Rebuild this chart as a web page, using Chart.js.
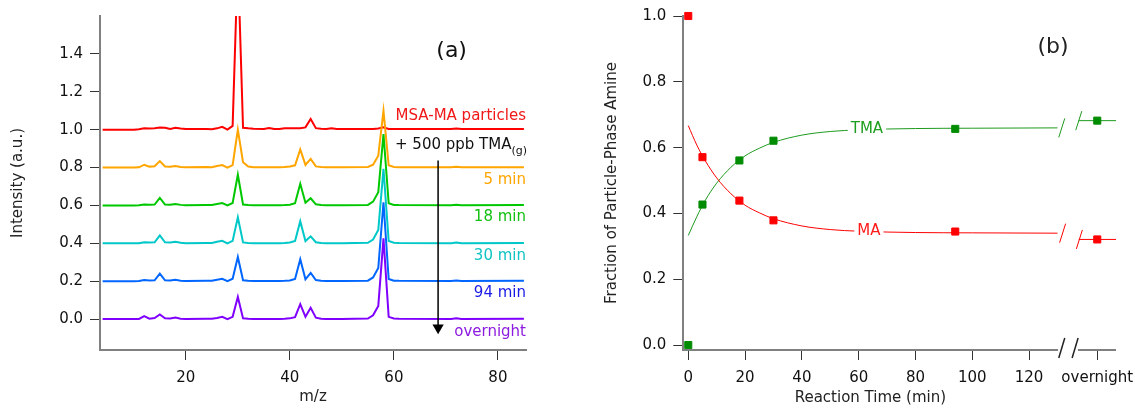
<!DOCTYPE html>
<html>
<head>
<meta charset="utf-8">
<script src="https://cdn.jsdelivr.net/npm/chart.js@4.4.1/dist/chart.umd.min.js"></script>
<style>
  html, body { margin: 0; padding: 0; background: #fff; }
  #graficos { position: relative; width: 1135px; height: 408px; }
  #graficoEspectros { position: absolute; left: 0; top: 0; }
  #graficoFracao { position: absolute; left: 560px; top: 0; }
</style>
</head>
<body>
<div id="graficos">
  <canvas id="graficoEspectros" width="560" height="408"></canvas>
  <canvas id="graficoFracao" width="575" height="408"></canvas>
</div>
<script>
const fonte = "DejaVu Sans";

// (a) espectros de massa, intensidade normalizada por m/z
const mz = [4, 10, 11, 12, 13, 14, 15, 16, 17, 18, 19, 20, 24, 25, 26, 27, 28, 29, 30, 31, 32, 33, 35, 36, 37, 38, 39, 40, 41, 42, 43, 44, 45, 46, 47, 48, 49, 50, 55, 56, 57, 58, 59, 60, 61, 71, 72, 73, 85];
const msaMa = [0, 0, 0.002, 0.008, 0.006, 0.008, 0.011, 0.01, 0.004, 0.01, 0.006, 0.003, 0.003, 0.002, 0.007, 0.015, 0, 0.02, 0.9, 0.01, 0.007, 0.005, 0.004, 0.009, 0.003, 0.003, 0.008, 0.007, 0.008, 0.008, 0.012, 0.056, 0.008, 0.005, 0.004, 0.007, 0.003, 0.003, 0.003, 0.004, 0.006, 0.012, 0.004, 0.003, 0.003, 0.003, 0.006, 0.003, 0.004];
const min5 = [0, 0, 0.001, 0.015, 0.005, 0.007, 0.034, 0.006, 0.004, 0.008, 0.003, 0.001, 0.003, 0.002, 0.008, 0.013, 0, 0.013, 0.2, 0.028, 0.005, 0.002, 0.001, 0.002, 0.001, 0.001, 0.003, 0.006, 0.012, 0.096, 0.014, 0.046, 0.006, 0.003, 0.002, 0.002, 0.001, 0.001, 0.003, 0.015, 0.063, 0.3, 0.012, 0.003, 0.002, 0.002, 0.004, 0.002, 0.002];
const min18 = [0, 0, 0.001, 0.005, 0.004, 0.005, 0.04, 0.005, 0.004, 0.008, 0.003, 0.001, 0.002, 0.002, 0.008, 0.013, 0, 0.013, 0.162, 0.005, 0.002, 0.001, 0.001, 0.001, 0.001, 0.001, 0.002, 0.004, 0.012, 0.114, 0.014, 0.038, 0.006, 0.002, 0.001, 0.001, 0.001, 0.001, 0.003, 0.02, 0.07, 0.377, 0.012, 0.003, 0.002, 0.001, 0.004, 0.001, 0.002];
const min30 = [0, 0, 0.001, 0.006, 0.004, 0.005, 0.042, 0.005, 0.004, 0.008, 0.003, 0.001, 0.002, 0.002, 0.008, 0.013, 0, 0.013, 0.138, 0.005, 0.002, 0.001, 0.001, 0.001, 0.001, 0.001, 0.002, 0.004, 0.012, 0.117, 0.012, 0.037, 0.006, 0.002, 0.001, 0.001, 0.001, 0.001, 0.003, 0.02, 0.07, 0.393, 0.012, 0.003, 0.002, 0.001, 0.004, 0.001, 0.002];
const min94 = [0, 0, 0.001, 0.006, 0.004, 0.005, 0.04, 0.005, 0.004, 0.008, 0.003, 0.001, 0.002, 0.002, 0.008, 0.013, 0, 0.013, 0.128, 0.005, 0.002, 0.001, 0.001, 0.001, 0.001, 0.001, 0.002, 0.004, 0.012, 0.116, 0.01, 0.044, 0.006, 0.002, 0.001, 0.001, 0.001, 0.001, 0.003, 0.02, 0.07, 0.417, 0.012, 0.003, 0.002, 0.001, 0.004, 0.001, 0.002];
const overnight = [0, 0, 0.001, 0.016, 0.002, 0.006, 0.025, 0.004, 0.003, 0.008, 0.002, 0.001, 0.002, 0.002, 0.006, 0.012, 0, 0.012, 0.117, 0.004, 0.002, 0.001, 0.001, 0.001, 0.001, 0.001, 0.002, 0.004, 0.01, 0.079, 0.012, 0.06, 0.008, 0.002, 0.001, 0.001, 0.001, 0.001, 0.003, 0.02, 0.07, 0.426, 0.012, 0.003, 0.002, 0.001, 0.004, 0.001, 0.002];
const deslocamentos = [0.0, 0.2, 0.4, 0.6, 0.8, 1.0];
const ticksYa = [0, 0.2, 0.4, 0.6, 0.8, 1.0, 1.2, 1.4];
const ticksXa = [20, 40, 60, 80];

// (b) fração de amina na partícula
const tempo = [0, 5, 18, 30, 94];
const fracaoMA = [1.0, 0.571, 0.439, 0.379, 0.345];
const fracaoTMA = [0.0, 0.427, 0.561, 0.621, 0.657];
const overnightMA = 0.321;
const overnightTMA = 0.682;
const tempoAjuste = [0, 3, 6, 10, 15, 20, 25, 30, 40, 50, 60, 80, 100, 130];
const ajusteMA = [0.667, 0.608, 0.56, 0.508, 0.46, 0.425, 0.402, 0.384, 0.362, 0.351, 0.346, 0.342, 0.341, 0.340];
const ajusteTMA = [0.333, 0.39, 0.44, 0.492, 0.54, 0.575, 0.598, 0.616, 0.638, 0.649, 0.654, 0.658, 0.659, 0.660];
const ticksXb = [0, 20, 40, 60, 80, 100, 120];
const ticksYb = [0, 0.2, 0.4, 0.6, 0.8, 1.0];

// posição do "overnight" no eixo quebrado
const posOvernight = 144;
const quebraIni = 130;
const quebraFim = 137.5;

function serie(valores, desloc) {
    return mz.map((m, i) => ({ x: m, y: valores[i] + desloc }));
}

function eixoX(min, max, ticks, formato, altura, titulo) {
    return {
        type: 'linear', min: min, max: max,
        afterBuildTicks: s => { s.ticks = ticks.map(v => ({ value: v })); },
        afterFit: s => { s.height = altura; s.paddingLeft = 0; s.paddingRight = 0; },
        grid: { drawOnChartArea: false, tickLength: 10, tickColor: '#333', tickWidth: 1 },
        border: { color: '#808080', width: 2 },
        ticks: { color: '#111', font: { family: fonte, size: 15 }, padding: 9, maxRotation: 0, autoSkip: false, callback: formato },
        title: titulo
    };
}

function eixoY(min, max, ticks, largura, titulo) {
    return {
        type: 'linear', min: min, max: max,
        afterBuildTicks: s => { s.ticks = ticks.map(v => ({ value: v })); },
        afterFit: s => { s.width = largura; },
        grid: { drawOnChartArea: false, tickLength: 10, tickColor: '#333', tickWidth: 1 },
        border: { color: '#808080', width: 2 },
        ticks: { color: '#111', font: { family: fonte, size: 15 }, padding: 7, autoSkip: false, callback: v => v.toFixed(1) },
        title: titulo
    };
}

function plotarEspectros() {
    const rotulos = [
        { texto: 'MSA-MA particles', cor: '#f01818', y: 1.074 },
        { texto: '5 min', cor: '#ffa500', y: 0.732 },
        { texto: '18 min', cor: '#12c012', y: 0.54 },
        { texto: '30 min', cor: '#10c4c4', y: 0.332 },
        { texto: '94 min', cor: '#1a1ae6', y: 0.135 },
        { texto: 'overnight', cor: '#8c1ae0', y: -0.07 }
    ];

    const textos = {
        id: 'textosEspectros',
        afterDatasetsDraw(chart) {
            const { ctx, chartArea, scales: { x, y } } = chart;
            ctx.save();
            ctx.textBaseline = 'middle';
            ctx.textAlign = 'right';
            ctx.font = `15px "${fonte}"`;
            rotulos.forEach(r => {
                ctx.fillStyle = r.cor;
                ctx.fillText(r.texto, chartArea.right, y.getPixelForValue(r.y));
            });
            // + 500 ppb TMA(g), com subscrito
            const yTma = y.getPixelForValue(0.919);
            ctx.fillStyle = '#111';
            ctx.font = `11px "${fonte}"`;
            const wSub = ctx.measureText('(g)').width;
            ctx.fillText('(g)', chartArea.right + 1, yTma + 6);
            ctx.font = `15px "${fonte}"`;
            ctx.fillText('+ 500 ppb TMA', chartArea.right + 1 - wSub, yTma);
            ctx.textAlign = 'center';
            ctx.font = `22px "${fonte}"`;
            ctx.fillText('(a)', x.getPixelForValue(71.1), y.getPixelForValue(1.416));
            ctx.restore();
        }
    };

    // a última série desenhada fica por cima (overnight)
    const cores = ['#8000ff', '#0066ff', '#00c8c8', '#00c800', '#ffa500', '#ff0000'];
    const valores = [overnight, min94, min30, min18, min5, msaMa];

    const datasets = [{
        // seta da sequência temporal
        data: [{ x: 68.5, y: 0.837 }, { x: 68.5, y: -0.045 }],
        borderColor: '#000', borderWidth: 1.5,
        pointStyle: 'triangle', pointRadius: [0, 6.5], pointRotation: 180,
        pointBackgroundColor: '#000', pointBorderColor: '#000', pointBorderWidth: 0
    }];
    valores.forEach((v, i) => {
        datasets.push({
            data: serie(v, deslocamentos[i]),
            borderColor: cores[i], borderWidth: 2, pointRadius: 0, tension: 0
        });
    });

    const config = {
        type: 'line',
        data: { datasets: datasets },
        options: {
            responsive: false,
            animation: false,
            events: [],
            layout: { padding: { top: 15, right: 34, left: 0, bottom: 0 } },
            plugins: { legend: { display: false }, tooltip: { enabled: false } },
            scales: {
                x: eixoX(3.5, 85.4, ticksXa, v => v, 58,
                    { display: true, text: 'm/z', color: '#222', font: { family: fonte, size: 15 }, padding: { top: 0, bottom: 2 } }),
                y: eixoY(-0.163, 1.6, ticksYa, 100,
                    { display: true, text: 'Intensity (a.u.)', color: '#222', font: { family: fonte, size: 15 }, padding: { top: 9, bottom: 0 } })
            }
        },
        plugins: [textos]
    };

    new Chart(document.getElementById('graficoEspectros'), config);
}

function barra(ctx, cx, cy, cor, largura, meia) {
    ctx.strokeStyle = cor;
    ctx.lineWidth = largura;
    ctx.beginPath();
    ctx.moveTo(cx - 3, cy + meia);
    ctx.lineTo(cx + 3, cy - meia);
    ctx.stroke();
}

function rotulo(ctx, texto, cx, cy, cor) {
    ctx.font = `15px "${fonte}"`;
    const w = ctx.measureText(texto).width;
    ctx.fillStyle = '#fff';
    ctx.fillRect(cx - w / 2 - 3, cy - 4, w + 6, 8);
    ctx.fillStyle = cor;
    ctx.fillText(texto, cx, cy);
}

function plotarFracao() {
    const verde = '#008c00';
    const verdeLinha = '#1e9a1e';
    const vermelho = '#ff0000';

    const extras = {
        id: 'extrasFracao',
        afterDatasetsDraw(chart) {
            const { ctx, chartArea: ca, scales: { x, y } } = chart;
            ctx.save();
            // eixo x interrompido
            ctx.strokeStyle = '#808080';
            ctx.lineWidth = 2;
            ctx.beginPath();
            ctx.moveTo(ca.left, ca.bottom);
            ctx.lineTo(x.getPixelForValue(quebraIni + 0.2), ca.bottom);
            ctx.moveTo(x.getPixelForValue(quebraFim - 0.3), ca.bottom);
            ctx.lineTo(ca.right, ca.bottom);
            ctx.stroke();
            barra(ctx, x.getPixelForValue(131.5), ca.bottom - 2, '#222', 1.5, 10);
            barra(ctx, x.getPixelForValue(136.2), ca.bottom - 2, '#222', 1.5, 10);

            // quebras nas curvas
            const ult = ajusteMA.length - 1;
            barra(ctx, x.getPixelForValue(131.5), y.getPixelForValue(ajusteTMA[ult]), verdeLinha, 1, 9.5);
            barra(ctx, x.getPixelForValue(131.8), y.getPixelForValue(ajusteMA[ult]), vermelho, 1, 9.5);
            barra(ctx, x.getPixelForValue(quebraFim), y.getPixelForValue(overnightTMA), verdeLinha, 1, 9.5);
            barra(ctx, x.getPixelForValue(quebraFim + 0.2), y.getPixelForValue(overnightMA), vermelho, 1, 9.5);

            ctx.textAlign = 'center';
            ctx.textBaseline = 'middle';
            rotulo(ctx, 'TMA', x.getPixelForValue(62.9), y.getPixelForValue(0.657), '#1e9e1e');
            rotulo(ctx, 'MA', x.getPixelForValue(63.6), y.getPixelForValue(0.345), '#ff1a1a');

            ctx.fillStyle = '#222';
            ctx.font = `15px "${fonte}"`;
            ctx.fillText('Reaction Time (min)', (ca.left + x.getPixelForValue(quebraIni)) / 2, chart.height - 10);
            ctx.font = `22px "${fonte}"`;
            ctx.fillText('(b)', x.getPixelForValue(128.4), y.getPixelForValue(0.905));
            ctx.restore();
        }
    };

    const pontos = (vals, extra) => tempo.map((t, i) => ({ x: t, y: vals[i] })).concat([{ x: posOvernight, y: extra }]);
    const ajuste = vals => tempoAjuste.map((t, i) => ({ x: t, y: vals[i] }));

    const dados = {
        datasets: [
            {
                label: 'MA', data: pontos(fracaoMA, overnightMA), showLine: false, clip: false,
                pointStyle: 'rect', pointRadius: 5, pointBackgroundColor: vermelho, pointBorderColor: vermelho, pointBorderWidth: 1
            },
            {
                label: 'TMA', data: pontos(fracaoTMA, overnightTMA), showLine: false, clip: false,
                pointStyle: 'rect', pointRadius: 5, pointBackgroundColor: verde, pointBorderColor: verde, pointBorderWidth: 1
            },
            {
                data: ajuste(ajusteMA), borderColor: vermelho, borderWidth: 1, pointRadius: 0, cubicInterpolationMode: 'monotone'
            },
            {
                data: ajuste(ajusteTMA), borderColor: verdeLinha, borderWidth: 1, pointRadius: 0, cubicInterpolationMode: 'monotone'
            },
            {
                data: [{ x: quebraFim, y: overnightMA }, { x: 150.6, y: overnightMA }], borderColor: vermelho, borderWidth: 1, pointRadius: 0
            },
            {
                data: [{ x: quebraFim, y: overnightTMA }, { x: 150.6, y: overnightTMA }], borderColor: verdeLinha, borderWidth: 1, pointRadius: 0
            }
        ]
    };

    const eixoXb = eixoX(-1.75, 150.6, ticksXb.concat([posOvernight]), v => (v === posOvernight ? 'overnight' : v), 58, { display: false });
    eixoXb.border = { display: false };

    const config = {
        type: 'line',
        data: dados,
        options: {
            responsive: false,
            animation: false,
            events: [],
            layout: { padding: { top: 15, right: 19, left: 0, bottom: 0 } },
            plugins: { legend: { display: false }, tooltip: { enabled: false } },
            scales: {
                x: eixoXb,
                y: eixoY(-0.015, 1.0, ticksYb, 123.3,
                    { display: true, text: 'Fraction of Particle-Phase Amine', color: '#222', font: { family: fonte, size: 15 }, padding: { top: 42.7, bottom: 0 } })
            }
        },
        plugins: [extras]
    };

    new Chart(document.getElementById('graficoFracao'), config);
}

plotarEspectros();
plotarFracao();
</script>
</body>
</html>
